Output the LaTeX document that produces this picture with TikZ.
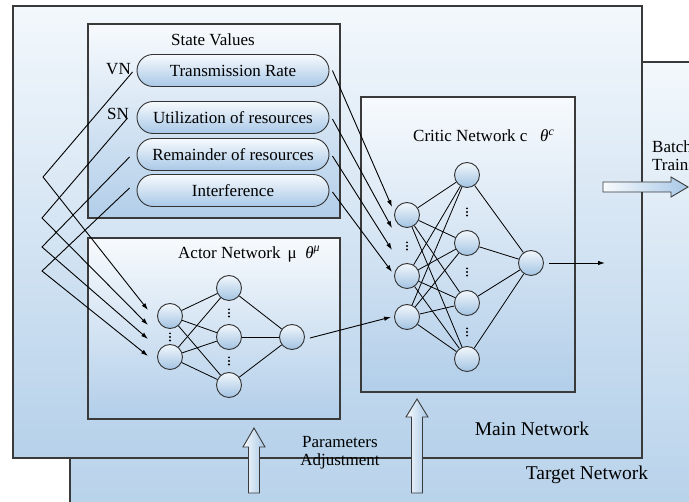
\documentclass[tikz,border=0pt]{standalone}
\usepackage{fontspec}
\setmainfont{Liberation Serif}
\usetikzlibrary{arrows.meta,calc}

\definecolor{edge}{HTML}{333333}
\definecolor{frame}{HTML}{3A3A3A}
\definecolor{bgtop}{HTML}{F3F8FC}
\definecolor{bgbot}{HTML}{B6D1EA}
\definecolor{boxtop}{HTML}{F7FAFD}
\definecolor{boxbot}{HTML}{B2CEE9}
\definecolor{pilltop}{HTML}{F7FAFD}
\definecolor{pillbot}{HTML}{A8C8E7}
\definecolor{balltop}{HTML}{F2F7FC}
\definecolor{ballbot}{HTML}{A2C3E3}

\tikzset{
  netframe/.style={draw=frame, line width=1.2pt, top color=bgtop, bottom color=bgbot},
  subframe/.style={draw=frame, line width=1.1pt, top color=boxtop, bottom color=boxbot},
  pill/.style={draw=edge, line width=0.9pt, rounded corners=16pt, minimum width=192pt,
    minimum height=32pt, inner sep=0pt, top color=pilltop, bottom color=pillbot,
    font=\fontsize{17}{20}\selectfont},
  neuron/.style={circle, draw=edge, line width=0.9pt, minimum size=25pt, inner sep=0pt,
    top color=balltop, bottom color=ballbot},
  link/.style={draw=black, line width=0.8pt},
  feed/.style={draw=black, line width=0.9pt, -{Latex[length=7pt,width=4.5pt]}},
  blockarrow/.style={draw=frame, line width=0.9pt, left color=pilltop, right color=pillbot},
  lbl/.style={font=\fontsize{17}{20}\selectfont, inner sep=0pt},
  biglbl/.style={font=\fontsize{19.5}{22}\selectfont, inner sep=0pt}
}

\begin{document}
\begin{tikzpicture}[x=1pt, y=-1pt]
\useasboundingbox (0,0) rectangle (689,502);
\clip (0,0) rectangle (689,502);

% target and main network frames
\draw[netframe] (70,62) rectangle (710,520);
\draw[netframe] (13,6) rectangle (642,458);

% inner frames
\draw[subframe] (88,24) rectangle (340,218);
\draw[subframe] (88,238) rectangle (340,419);
\draw[subframe] (361,97) rectangle (575,392);

% state values
\node[lbl] (svtitle) at (213,40) {State Values};
\node[pill] (p1) at (233,70.5) {Transmission Rate};
\node[pill] (p2) at (233,117.5) {Utilization of resources};
\node[pill] (p3) at (233,154.5) {Remainder of resources};
\node[pill] (p4) at (233,190.5) {Interference};
\node[lbl, anchor=east] (vn) at (131,69) {VN};
\node[lbl, anchor=east] (sn) at (129,114) {SN};

% actor network
\node[lbl, anchor=west] (actortitle) at (178,254) {Actor Network \,μ \ \textit{θ}\textsuperscript{\textit{μ}}};
\node[neuron] (a1) at (170,316) {};
\node[neuron] (a2) at (170,357) {};
\node[neuron] (h1) at (229,288) {};
\node[neuron] (h2) at (229,337) {};
\node[neuron] (h3) at (229,385) {};
\node[neuron] (ao) at (292,337) {};
\foreach \i in {a1,a2}
  \foreach \j in {h1,h2,h3}
    \draw[link] (\i) -- (\j);
\foreach \j in {h1,h2,h3}
  \draw[link] (\j) -- (ao);

% critic network
\node[lbl, anchor=west] (critictitle) at (413,136) {Critic Network c \ \ \textit{θ}\textsuperscript{\textit{c}}};
\node[neuron] (c1) at (407,215) {};
\node[neuron] (c2) at (407,276) {};
\node[neuron] (c3) at (407,317) {};
\node[neuron] (k1) at (467,175) {};
\node[neuron] (k2) at (467,243) {};
\node[neuron] (k3) at (467,303) {};
\node[neuron] (k4) at (467,359) {};
\node[neuron] (co) at (531,263) {};
\foreach \i in {c1,c2,c3}
  \foreach \j in {k1,k2,k3,k4}
    \draw[link] (\i) -- (\j);
\foreach \j in {k1,k2,k3,k4}
  \draw[link] (\j) -- (co);

% vertical ellipses between neurons
\foreach \x/\y in {170/337, 229/313, 229/361, 407/246, 467/212, 467/272, 467/332}
  \foreach \k in {-3.6,0,3.6}
    \fill[black] (\x,\y+\k) circle (1.1pt);

% state inputs routed round the left into the actor
\coordinate (t1) at (43,177);
\coordinate (t2) at (42,218);
\coordinate (t3) at (42,247);
\coordinate (t4) at (42,271);
\coordinate (e1) at (148,310);
\coordinate (e2) at (148,325);
\coordinate (e3) at (148,339);
\coordinate (e4) at (148,356);
\draw[feed] ($(p1.west)+(-4,1.5)$) -- (t1) -- (e1);
\draw[feed] ($(p2.west)+(-9,0.5)$) -- (t2) -- (e2);
\draw[feed] ($(p3.west)+(-7,2.5)$) -- (t3) -- (e3);
\draw[feed] ($(p4.west)+(-7,-2.5)$) -- (t4) -- (e4);

% state inputs into the critic
\coordinate (f1) at (392,207);
\coordinate (f2) at (392,228);
\coordinate (f3) at (392,250);
\coordinate (f4) at (392,272);
\draw[feed] ($(p1.east)+(3,0)$) -- (f1);
\draw[feed] ($(p2.east)+(3,1.5)$) -- (f2);
\draw[feed] ($(p3.east)+(3,1.5)$) -- (f3);
\draw[feed] ($(p4.east)+(3,1.5)$) -- (f4);

% actor output to critic, critic output
\draw[feed] ($(ao.east)+(5,1)$) -- ($(c3.west)+(-3,0)$);
\coordinate (cout) at (605,263);
\draw[feed] ($(co.east)+(5,0)$) -- (cout);

% batch training arrow
\draw[blockarrow] (603,182) -- (671,182) -- (671,177) -- (688,187) -- (671,197) -- (671,192) -- (603,192) -- cycle;
\node[lbl, anchor=west, align=left] (batch) at (652,157) {Batch\\[-2pt]Training};

% parameter adjustment arrows
\draw[blockarrow] (248.5,493) -- (248.5,447) -- (243,447) -- (254,428) -- (265,447) -- (259.5,447) -- (259.5,493) -- cycle;
\draw[blockarrow] (411.5,493) -- (411.5,417) -- (406,417) -- (417,399) -- (428,417) -- (422.5,417) -- (422.5,493) -- cycle;
\node[lbl, align=center] (params) at (340,453) {Parameters\\[-2pt]Adjustment};

% frame labels
\node[biglbl] (mainlbl) at (532,429) {Main Network};
\node[biglbl] (targetlbl) at (587,475) {Target Network};
\end{tikzpicture}
\end{document}
